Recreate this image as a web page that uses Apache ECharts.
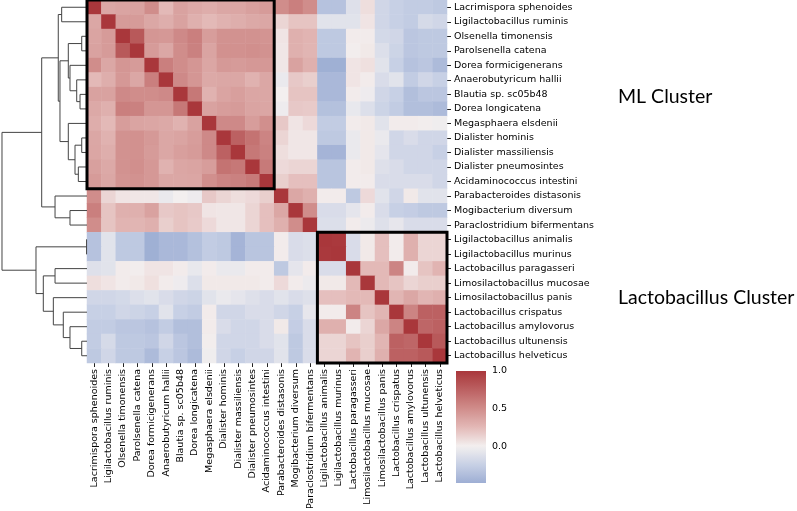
<!DOCTYPE html>
<html><head><meta charset="utf-8">
<script src="https://cdn.jsdelivr.net/npm/echarts@6/dist/echarts.min.js"></script>
<style>html,body{margin:0;padding:0;background:#fff}#c{width:797px;height:511px}</style>
</head><body><div id="c"></div>
<script>
// ---------- data ----------
const species = [
  'Lacrimispora sphenoides','Ligilactobacillus ruminis','Olsenella timonensis','Parolsenella catena',
  'Dorea formicigenerans','Anaerobutyricum hallii','Blautia sp. sc05b48','Dorea longicatena',
  'Megasphaera elsdenii','Dialister hominis','Dialister massiliensis','Dialister pneumosintes',
  'Acidaminococcus intestini','Parabacteroides distasonis','Mogibacterium diversum','Paraclostridium bifermentans',
  'Ligilactobacillus animalis','Ligilactobacillus murinus','Lactobacillus paragasseri','Limosilactobacillus mucosae',
  'Limosilactobacillus panis','Lactobacillus crispatus','Lactobacillus amylovorus','Lactobacillus ultunensis',
  'Lactobacillus helveticus'
];
// lower triangle of the (symmetric) correlation matrix, row i has columns 0..i
const corrLower = [
  [1],
  [0.35,1],
  [0.37,0.42,1],
  [0.38,0.42,0.80,1],
  [0.50,0.35,0.45,0.42,1],
  [0.25,0.31,0.44,0.35,0.58,1],
  [0.38,0.38,0.52,0.50,0.50,0.52,1],
  [0.34,0.30,0.58,0.57,0.45,0.45,0.62,1],
  [0.32,0.25,0.41,0.37,0.36,0.34,0.29,0.38,1],
  [0.35,0.29,0.47,0.48,0.43,0.35,0.37,0.41,0.52,1],
  [0.36,0.31,0.47,0.48,0.42,0.35,0.40,0.42,0.52,0.75,1],
  [0.39,0.34,0.47,0.49,0.44,0.29,0.36,0.37,0.41,0.65,0.62,1],
  [0.42,0.35,0.46,0.47,0.44,0.35,0.35,0.36,0.49,0.55,0.57,0.61,1],
  [0.50,0.12,0.05,0.04,0.04,-0.05,0.00,-0.03,0.18,0.12,0.08,0.10,0.15,1],
  [0.58,0.20,0.30,0.30,0.38,0.18,0.20,0.18,0.05,0.04,0.04,0.12,0.22,0.35,1],
  [0.50,0.20,0.28,0.27,0.30,0.15,0.20,0.17,0.10,0.04,0.04,0.12,0.22,0.30,0.50,1],
  [-0.35,-0.10,-0.30,-0.30,-0.48,-0.42,-0.42,-0.36,-0.28,-0.30,-0.45,-0.33,-0.33,0.02,-0.15,-0.13,1],
  [-0.35,-0.10,-0.30,-0.30,-0.48,-0.42,-0.42,-0.36,-0.28,-0.30,-0.45,-0.33,-0.33,0.02,-0.15,-0.13,0.99,1],
  [-0.12,-0.10,0.02,0.01,0.05,0.05,0.02,-0.06,0.02,-0.05,-0.05,0.02,0.02,-0.30,-0.08,0.02,-0.15,-0.15,1],
  [0.08,0.05,0.02,0.03,0.07,0.02,-0.03,-0.13,0.03,0.03,0.03,0.03,0.02,0.10,0.02,-0.04,0.03,0.03,0.25,1],
  [-0.20,-0.20,-0.18,-0.13,-0.10,-0.15,-0.20,-0.22,-0.10,-0.05,-0.08,-0.12,-0.15,-0.10,-0.15,-0.12,0.22,0.22,0.25,0.25,1],
  [-0.25,-0.25,-0.20,-0.22,-0.25,-0.10,-0.25,-0.28,0.02,-0.20,-0.20,-0.15,-0.15,-0.20,-0.25,-0.07,0.02,0.02,0.55,0.20,0.27,1],
  [-0.28,-0.28,-0.32,-0.32,-0.35,-0.28,-0.37,-0.37,0.02,-0.15,-0.20,-0.20,-0.15,0.03,-0.27,-0.15,0.30,0.30,0.02,0.12,0.35,0.55,1],
  [-0.28,-0.17,-0.30,-0.30,-0.32,-0.20,-0.32,-0.37,0.01,-0.20,-0.20,-0.20,-0.15,-0.10,-0.30,-0.15,0.12,0.12,0.20,0.15,0.27,0.75,0.72,1],
  [-0.30,-0.20,-0.30,-0.30,-0.40,-0.25,-0.32,-0.40,-0.02,-0.20,-0.25,-0.20,-0.20,-0.10,-0.30,-0.15,0.12,0.12,0.28,0.15,0.30,0.75,0.75,0.80,1]
];
// hierarchical clustering (scipy style): [childA, childB, distance]; node ids >= 25 are earlier merges
const linkage = [
  [16,17,0.005],[2,3,0.062],[9,10,0.062],[23,24,0.062],[6,7,0.082],[11,12,0.102],
  [5,29,0.121],[27,30,0.141],[22,28,0.20],[4,31,0.20],[14,15,0.20],[26,34,0.22],
  [8,32,0.22],[21,33,0.279],[0,1,0.298],[36,37,0.318],[39,40,0.338],[13,35,0.376],
  [18,19,0.376],[20,38,0.396],[43,44,0.514],[41,42,0.533],[25,45,0.60],[46,47,1.0]
];
const colorbarRange = [-0.49, 1.0];
const colorbarTicks = [0.0, 0.5, 1.0];
const clusterBoxes = [[0,12],[16,24]];
const clusterNames = ['ML Cluster','Lactobacillus Cluster'];
const paletteValues = [-1,-0.75,-0.5,-0.25,0,0.25,0.5,0.75,1];
const paletteColors = ['#2369BD','#6688C4','#9CADD3','#C7D0E5','#F3EFEF','#E3B9B7','#D08D8B','#BC6162','#A9373B'];

// ---------- build ----------
const n = species.length;
const heatData = [];
for (let i = 0; i < n; i++) for (let j = 0; j < n; j++) {
  const v = j <= i ? corrLower[i][j] : corrLower[j][i];
  heatData.push([j, i, v]);
}
const pos = [], hgt = [];
for (let i = 0; i < n; i++) { pos[i] = i; hgt[i] = 0; }
const links = [];
linkage.forEach((l, k) => {
  const [a, b, d] = l;
  pos[n + k] = (pos[a] + pos[b]) / 2; hgt[n + k] = d;
  links.push([pos[a], hgt[a], pos[b], hgt[b], d]);
});
function hex2rgb(h){return [parseInt(h.slice(1,3),16),parseInt(h.slice(3,5),16),parseInt(h.slice(5,7),16)];}
function colorAt(v){
  for (let k = 0; k < paletteValues.length - 1; k++) {
    if (v <= paletteValues[k+1]) {
      const t = (v - paletteValues[k]) / (paletteValues[k+1] - paletteValues[k]);
      const a = hex2rgb(paletteColors[k]), b = hex2rgb(paletteColors[k+1]);
      return 'rgb(' + a.map((x,i)=>Math.round(x + (b[i]-x)*t)).join(',') + ')';
    }
  }
  return paletteColors[paletteColors.length-1];
}
const gradStops = [];
for (let s = 0; s <= 30; s++) {
  const v = colorbarRange[1] - (colorbarRange[1] - colorbarRange[0]) * s / 30;
  gradStops.push({offset: s / 30, color: colorAt(v)});
}

const FONT = 'DejaVu Sans';
const FS = 9.5;
const chart = echarts.init(document.getElementById('c'), null, {renderer: 'canvas'});
chart.setOption({
  animation: false,
  backgroundColor: '#fff',
  grid: [
    {left: 87, top: 0, width: 360, height: 363, outerBoundsMode: 'none', containLabel: false},
    {left: 0, top: 0, width: 87, height: 363, outerBoundsMode: 'none', containLabel: false},
    {left: 456, top: 371, width: 30, height: 112, outerBoundsMode: 'none', containLabel: false}
  ],
  xAxis: [
    {type: 'category', gridIndex: 0, data: species, position: 'bottom',
     axisLine: {show: false}, splitLine: {show: false},
     axisTick: {show: true, alignWithLabel: true, length: 4, lineStyle: {color: '#222'}},
     axisLabel: {rotate: 90, interval: 0, margin: 6, fontSize: FS, color: '#000', fontFamily: FONT}},
    {type: 'value', gridIndex: 1, min: 0, max: 1.0235, inverse: true, show: false},
    {type: 'value', gridIndex: 2, min: 0, max: 1, show: false}
  ],
  yAxis: [
    {type: 'category', gridIndex: 0, data: species, inverse: true, position: 'right',
     axisLine: {show: false}, splitLine: {show: false},
     axisTick: {show: true, alignWithLabel: true, length: 4, lineStyle: {color: '#222'}},
     axisLabel: {interval: 0, margin: 7, fontSize: FS, color: '#000', fontFamily: FONT}},
    {type: 'value', gridIndex: 1, min: -0.5, max: n - 0.5, inverse: true, show: false},
    {type: 'value', gridIndex: 2, min: colorbarRange[0], max: colorbarRange[1], position: 'right',
     axisLine: {show: false}, splitLine: {show: false},
     axisTick: {show: true, length: 4, customValues: colorbarTicks, lineStyle: {color: '#222'}},
     axisLabel: {customValues: colorbarTicks, margin: 6, fontSize: FS, color: '#000', fontFamily: FONT,
                 formatter: v => Number(v).toFixed(1)}}
  ],
  visualMap: {type: 'continuous', show: false, min: -1, max: 1, dimension: 2, seriesIndex: 0,
              inRange: {color: paletteColors}},
  series: [
    {type: 'heatmap', xAxisIndex: 0, yAxisIndex: 0, data: heatData,
     itemStyle: {borderWidth: 0}, emphasis: {disabled: true}, progressive: 0},
    {type: 'custom', xAxisIndex: 0, yAxisIndex: 0, z: 10, data: clusterBoxes, silent: true,
     renderItem: (params, api) => {
       const s = api.value(0), e = api.value(1);
       const c = api.coord([s, s]); const sz = api.size([1, 1]);
       const k = e - s + 1;
       return {type: 'rect', shape: {x: c[0] - sz[0]/2, y: c[1] - sz[1]/2, width: sz[0]*k, height: sz[1]*k},
               style: {fill: null, stroke: '#000', lineWidth: 3}};
     }},
    {type: 'custom', xAxisIndex: 1, yAxisIndex: 1, data: links, silent: true,
     encode: {x: [1, 3, 4], y: [0, 2]},
     renderItem: (params, api) => {
       const ya = api.value(0), ha = api.value(1), yb = api.value(2), hb = api.value(3), d = api.value(4);
       return {type: 'polyline', shape: {points: [api.coord([ha, ya]), api.coord([d, ya]), api.coord([d, yb]), api.coord([hb, yb])]},
               style: {fill: null, stroke: '#444', lineWidth: 1}};
     }},
    {type: 'custom', xAxisIndex: 2, yAxisIndex: 2, data: [[0, colorbarRange[0], 1, colorbarRange[1]]], silent: true,
     renderItem: (params, api) => {
       const p0 = api.coord([api.value(0), api.value(3)]), p1 = api.coord([api.value(2), api.value(1)]);
       return {type: 'rect', shape: {x: p0[0], y: p0[1], width: p1[0] - p0[0], height: p1[1] - p0[1]},
               style: {fill: new echarts.graphic.LinearGradient(0, 0, 0, 1, gradStops)}};
     }}
  ],
  graphic: [
    {type: 'text', left: 618, top: 87, style: {text: clusterNames[0], font: '19.5px Lato', fill: '#000'}},
    {type: 'text', left: 618, top: 288, style: {text: clusterNames[1], font: '19.5px Lato', fill: '#000'}}
  ]
});
</script></body></html>
